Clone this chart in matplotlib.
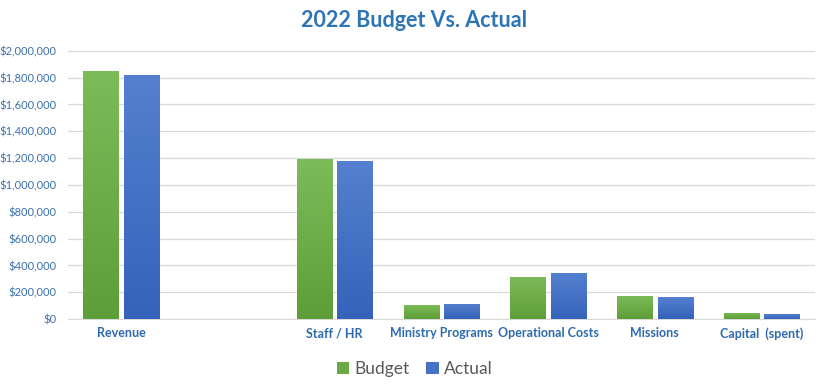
import matplotlib.pyplot as plt
import numpy as np
from matplotlib.ticker import FuncFormatter
from matplotlib.colors import LinearSegmentedColormap

# data
categories = ["Revenue", "", "Staff / HR", "Ministry Programs", "Operational Costs", "Missions", "Capital  (spent)"]
budget = [1850000, np.nan, 1190000, 105000, 316000, 172000, 45000]
actual = [1822000, np.nan, 1176000, 112000, 345000, 162000, 37000]

plt.rcParams['font.family'] = ['Lato', 'DejaVu Sans']

fig = plt.figure(figsize=(8.29, 3.91), dpi=100)
ax = fig.add_axes([0.082, 0.184, 0.901, 0.686])

x = np.arange(len(categories))
w = 0.33
b1 = ax.bar(x - 0.19, budget, w, color="#6AAA45", label="Budget", zorder=3)
b2 = ax.bar(x + 0.19, actual, w, color="#4472C4", label="Actual", zorder=3)

ax.set_xlim(-0.5, len(categories) - 0.5)
ax.set_ylim(0, 2000000)

# soft vertical gradient on the bars, like the Excel fill
grad = np.linspace(1, 0, 256).reshape(-1, 1)
cm_g = LinearSegmentedColormap.from_list("g", ["#5E9E38", "#7DBB58"])
cm_b = LinearSegmentedColormap.from_list("b", ["#3563BA", "#5580CF"])
for bars, cm in [(b1, cm_g), (b2, cm_b)]:
    for r in bars:
        h = r.get_height()
        if np.isnan(h):
            continue
        x0 = r.get_x()
        im = ax.imshow(grad, cmap=cm, aspect="auto", zorder=4,
                       extent=[x0, x0 + r.get_width(), 0, h])
        im.set_clip_path(r)

ax.set_xlim(-0.5, len(categories) - 0.5)
ax.set_ylim(0, 2000000)
ax.set_yticks(np.arange(0, 2000001, 200000))
ax.yaxis.set_major_formatter(FuncFormatter(lambda v, p: f"${v:,.0f}"))
ax.grid(axis="y", color="#D9D9D9", linewidth=0.9, zorder=0)
for s in ["top", "right", "left"]:
    ax.spines[s].set_visible(False)
ax.spines["bottom"].set_color("#D9D9D9")
ax.tick_params(axis="both", length=0)
ax.tick_params(axis="y", labelsize=8, labelcolor="#3B70AE", pad=8)
ax.set_xticks(x)
ax.set_xticklabels(categories, fontsize=9, fontweight="bold", color="#2E6AAD")
ax.tick_params(axis="x", pad=6)

fig.suptitle("2022 Budget Vs. Actual", x=0.5, y=0.975, fontsize=15.5,
             fontweight="bold", color="#2E75B6")
fig.legend(handles=[b1, b2], loc="center", bbox_to_anchor=(0.5, 0.055), ncol=2,
           frameon=False, fontsize=12.5, labelcolor="#595959", handlelength=0.7,
           handleheight=0.7, handletextpad=0.3, columnspacing=1.0)

plt.savefig("out.png", dpi=100)
